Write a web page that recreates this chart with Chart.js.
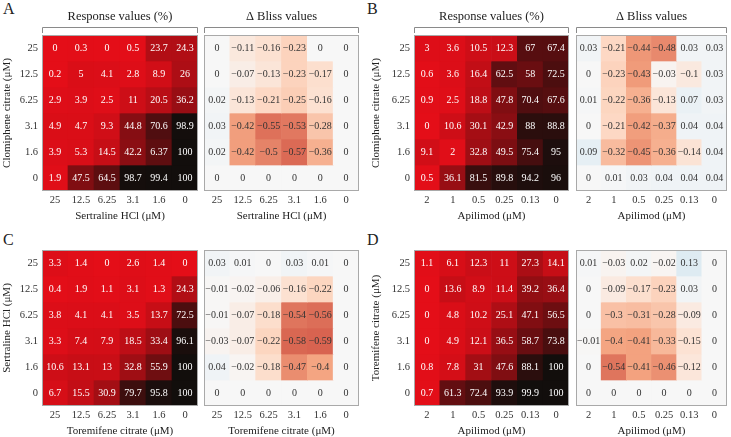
<!DOCTYPE html>
<html>
<head>
<meta charset="utf-8">
<script src="https://cdn.jsdelivr.net/npm/chart.js@4.4.0/dist/chart.umd.min.js"></script>
<style>
  body { margin: 0; width: 731px; height: 437px; background: #fff; overflow: hidden; position: relative; font-family: "Liberation Serif", serif; }
  .box { position: absolute; }
  .tag { position: absolute; font-size: 16px; color: #222; line-height: 16px; }
</style>
</head>
<body>
<div class="tag" style="left:3px;top:1px">A</div>
<div class="tag" style="left:367px;top:1px">B</div>
<div class="tag" style="left:3px;top:232px">C</div>
<div class="tag" style="left:367px;top:232px">D</div>

<script>
// tick labels
const concRows = ['25', '12.5', '6.25', '3.1', '1.6', '0'];
const concCols = ['25', '12.5', '6.25', '3.1', '1.6', '0'];
const apilimodCols = ['2', '1', '0.5', '0.25', '0.13', '0'];

// A: clomiphene x sertraline (rows top to bottom = 25 ... 0)
const respA = [
  [0, 0.3, 0, 0.5, 23.7, 24.3],
  [0.2, 5, 4.1, 2.8, 8.9, 26],
  [2.9, 3.9, 2.5, 11, 20.5, 36.2],
  [4.9, 4.7, 9.3, 44.8, 70.6, 98.9],
  [3.9, 5.3, 14.5, 42.2, 63.7, 100],
  [1.9, 47.5, 64.5, 98.7, 99.4, 100]
];
const blissA = [
  [0, -0.11, -0.16, -0.23, 0, 0],
  [0, -0.07, -0.13, -0.23, -0.17, 0],
  [0.02, -0.13, -0.21, -0.25, -0.16, 0],
  [0.03, -0.42, -0.55, -0.53, -0.28, 0],
  [0.02, -0.42, -0.5, -0.57, -0.36, 0],
  [0, 0, 0, 0, 0, 0]
];
// B: clomiphene x apilimod
const respB = [
  [3, 3.6, 10.5, 12.3, 67, 67.4],
  [0.6, 3.6, 16.4, 62.5, 58, 72.5],
  [0.9, 2.5, 18.8, 47.8, 70.4, 67.6],
  [0, 10.6, 30.1, 42.9, 88, 88.8],
  [9.1, 2, 32.8, 49.5, 75.4, 95],
  [0.5, 36.1, 81.5, 89.8, 94.2, 96]
];
const blissB = [
  [0.03, -0.21, -0.44, -0.48, 0.03, 0.03],
  [0, -0.23, -0.43, -0.03, -0.1, 0.03],
  [0.01, -0.22, -0.36, -0.13, 0.07, 0.03],
  [0, -0.21, -0.42, -0.37, 0.04, 0.04],
  [0.09, -0.32, -0.45, -0.36, -0.14, 0.04],
  [0, 0.01, 0.03, 0.04, 0.04, 0.04]
];
// C: sertraline x toremifene
const respC = [
  [3.3, 1.4, 0, 2.6, 1.4, 0],
  [0.4, 1.9, 1.1, 3.1, 1.3, 24.3],
  [3.8, 4.1, 4.1, 3.5, 13.7, 72.5],
  [3.3, 7.4, 7.9, 18.5, 33.4, 96.1],
  [10.6, 13.1, 13, 32.8, 55.9, 100],
  [6.7, 15.5, 30.9, 79.7, 95.8, 100]
];
const blissC = [
  [0.03, 0.01, 0, 0.03, 0.01, 0],
  [-0.01, -0.02, -0.06, -0.16, -0.22, 0],
  [-0.01, -0.07, -0.18, -0.54, -0.56, 0],
  [-0.03, -0.07, -0.22, -0.58, -0.59, 0],
  [0.04, -0.02, -0.18, -0.47, -0.4, 0],
  [0, 0, 0, 0, 0, 0]
];
// D: toremifene x apilimod
const respD = [
  [1.1, 6.1, 12.3, 11, 27.3, 14.1],
  [0, 13.6, 8.9, 11.4, 39.2, 36.4],
  [0, 4.8, 10.2, 25.1, 47.1, 56.5],
  [0, 4.9, 12.1, 36.5, 58.7, 73.8],
  [0.8, 7.8, 31, 47.6, 88.1, 100],
  [0.7, 61.3, 72.4, 93.9, 99.9, 100]
];
const blissD = [
  [0.01, -0.03, 0.02, -0.02, 0.13, 0],
  [0, -0.09, -0.17, -0.23, 0.03, 0],
  [0, -0.3, -0.31, -0.28, -0.09, 0],
  [-0.01, -0.4, -0.41, -0.33, -0.15, 0],
  [0, -0.54, -0.41, -0.46, -0.12, 0],
  [0, 0, 0, 0, 0, 0]
];
// label printed in the original figure differs from the shaded value
const respAText = respA.map(r => r.map(String));
respAText[4][4] = '6.37';

const FONT = '"Liberation Serif", serif';

// colour scales
function respColor(v) {
  const t = Math.max(0, Math.min(1, v / 100));
  const a = [228, 14, 24], b = [18, 14, 12];
  const c = a.map((x, i) => Math.round(x + (b[i] - x) * t));
  return `rgb(${c[0]},${c[1]},${c[2]})`;
}
const rdbu = ['#67001f','#b2182b','#d6604d','#f4a582','#fddbc7','#f7f7f7','#d1e5f0','#92c5de','#4393c3','#2166ac','#053061'];
function hex(h) { return [1, 3, 5].map(i => parseInt(h.substr(i, 2), 16)); }
function blissColor(v) {
  const t = Math.max(0, Math.min(1, (v + 1) / 2)) * 10;
  const i = Math.min(9, Math.floor(t)), f = t - i;
  const a = hex(rdbu[i]), b = hex(rdbu[i + 1]);
  const c = a.map((x, k) => Math.round(x + (b[k] - x) * f));
  return `rgb(${c[0]},${c[1]},${c[2]})`;
}
function fmt(v) { return v < 0 ? '\u2212' + String(-v) : String(v); }

// draws the numbers in each cell, the frame and the bracketed header
const cellPlugin = {
  id: 'cellPlugin',
  afterDatasetsDraw(chart, args, o) {
    const ctx = chart.ctx, a = chart.chartArea;
    ctx.save();
    ctx.font = '10px ' + FONT;
    ctx.textAlign = 'center';
    ctx.textBaseline = 'middle';
    ctx.fillStyle = o.color;
    chart.data.datasets.forEach((ds, r) => {
      chart.getDatasetMeta(r).data.forEach((bar, c) => {
        const p = bar.getProps(['x', 'y', 'base'], true);
        ctx.fillText(o.text[r][c], p.x, (p.y + p.base) / 2 + 0.5);
      });
    });
    ctx.strokeStyle = '#a9a9a9';
    ctx.lineWidth = 1;
    ctx.strokeRect(a.left + 0.5, a.top + 0.5, a.width - 1, a.height - 1);
    if (o.header) {
      ctx.fillStyle = '#222';
      ctx.font = '12.5px ' + FONT;
      ctx.fillText(o.header, (a.left + a.right) / 2, a.top - 18);
      ctx.strokeStyle = '#8a8a8a';
      ctx.beginPath();
      ctx.moveTo(a.left + 0.5, a.top - 2);
      ctx.lineTo(a.left + 0.5, a.top - 7.5);
      ctx.lineTo(a.right - 0.5, a.top - 7.5);
      ctx.lineTo(a.right - 0.5, a.top - 2);
      ctx.stroke();
    }
    ctx.restore();
  }
};

function heatmap(pos, vals, text, colorFn, textColor, xLabels, yLabels, xTitle, yTitle, header) {
  const div = document.createElement('div');
  div.className = 'box';
  div.style.left = pos.left + 'px';
  div.style.top = pos.top + 'px';
  div.style.width = pos.width + 'px';
  div.style.height = '223px';
  const cv = document.createElement('canvas');
  div.appendChild(cv);
  document.body.appendChild(div);

  const datasets = vals.map((row, r) => ({
    data: xLabels.map(() => [5 - r, 6 - r]),
    backgroundColor: row.map(colorFn),
    borderWidth: 0,
    barPercentage: 1,
    categoryPercentage: 1,
    grouped: false
  }));

  new Chart(cv, {
    type: 'bar',
    data: { labels: xLabels, datasets: datasets },
    options: {
      responsive: true,
      maintainAspectRatio: false,
      animation: false,
      layout: { padding: { top: 35, left: 0, right: 0, bottom: 0 } },
      plugins: {
        legend: { display: false },
        tooltip: { enabled: false },
        cellPlugin: { text: text, color: textColor, header: header }
      },
      scales: {
        x: {
          grid: { display: false, drawTicks: false },
          border: { display: false },
          ticks: { color: '#333', font: { family: FONT, size: 10.5 }, padding: 3, maxRotation: 0, autoSkip: false },
          title: { display: true, text: xTitle, color: '#222', font: { family: FONT, size: 11 }, padding: 0 },
          afterFit: s => { s.height = 32; }
        },
        y: {
          display: !!yTitle,
          min: 0,
          max: 6,
          afterBuildTicks: ax => { ax.ticks = [0.5, 1.5, 2.5, 3.5, 4.5, 5.5].map(v => ({ value: v })); },
          grid: { display: false, drawTicks: false },
          border: { display: false },
          ticks: { color: '#333', font: { family: FONT, size: 10.5 }, padding: 4, callback: v => yLabels[5 - Math.floor(v)] },
          title: { display: true, text: yTitle, color: '#222', font: { family: FONT, size: 11 }, padding: { top: 1, bottom: 0 } },
          afterFit: s => { s.width = yTitle ? pos.yw : 0; }
        }
      }
    },
    plugins: [cellPlugin]
  });
}

const txt = m => m.map(r => r.map(fmt));

heatmap({ left: 0, top: 0, width: 198, yw: 42 }, respA, respAText, respColor, '#fff', concCols, concRows,
  'Sertraline HCl (\u03bcM)', 'Clomiphene citrate (\u03bcM)', 'Response values (%)');
heatmap({ left: 204, top: 0, width: 155 }, blissA, txt(blissA), blissColor, '#333', concCols, concRows,
  'Sertraline HCl (\u03bcM)', '', '\u0394 Bliss values');
heatmap({ left: 369, top: 0, width: 200, yw: 45 }, respB, txt(respB), respColor, '#fff', apilimodCols, concRows,
  'Apilimod (\u03bcM)', 'Clomiphene citrate (\u03bcM)', 'Response values (%)');
heatmap({ left: 576, top: 0, width: 151 }, blissB, txt(blissB), blissColor, '#333', apilimodCols, concRows,
  'Apilimod (\u03bcM)', '', '\u0394 Bliss values');

heatmap({ left: 0, top: 215, width: 198, yw: 42 }, respC, txt(respC), respColor, '#fff', concCols, concRows,
  'Toremifene citrate (\u03bcM)', 'Sertraline HCl (\u03bcM)', '');
heatmap({ left: 204, top: 215, width: 155 }, blissC, txt(blissC), blissColor, '#333', concCols, concRows,
  'Toremifene citrate (\u03bcM)', '', '');
heatmap({ left: 369, top: 215, width: 200, yw: 45 }, respD, txt(respD), respColor, '#fff', apilimodCols, concRows,
  'Apilimod (\u03bcM)', 'Toremifene citrate (\u03bcM)', '');
heatmap({ left: 576, top: 215, width: 151 }, blissD, txt(blissD), blissColor, '#333', apilimodCols, concRows,
  'Apilimod (\u03bcM)', '', '');
</script>
</body>
</html>
